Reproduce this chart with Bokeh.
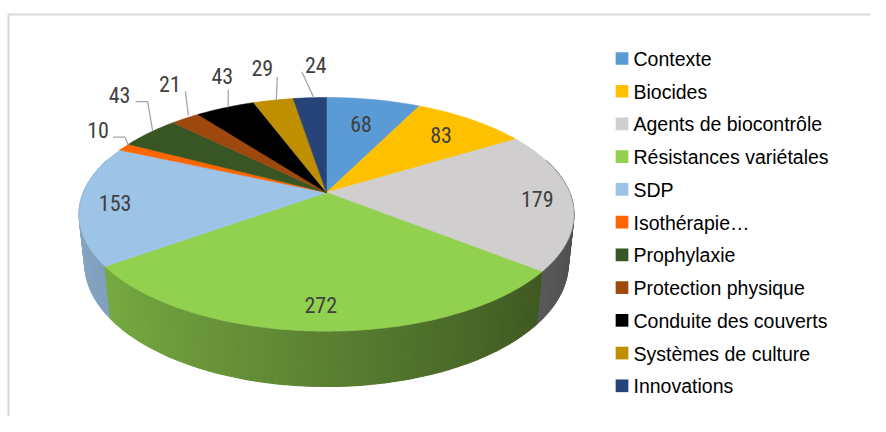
import numpy as np
from bokeh.plotting import figure
from bokeh.models import Range1d
from bokeh.core.properties import value
from bokeh.embed import file_html
from bokeh.resources import INLINE

# ---------------- data ----------------
categories = ["Contexte", "Biocides", "Agents de biocontrôle", "Résistances variétales",
              "SDP", "Isothérapie…", "Prophylaxie", "Protection physique",
              "Conduite des couverts", "Systèmes de culture", "Innovations"]
counts = [68, 83, 179, 272, 153, 10, 43, 21, 43, 29, 24]
colors = ["#5B9BD5", "#FFC000", "#D0CECE", "#92D050", "#9DC3E6", "#FF6600",
          "#375623", "#9E480E", "#000000", "#BF8F00", "#264478"]

# ---------------- layout (3D projection) ----------------
CX, CY = 327.0, 193.0
S = 0.464
C = np.sqrt(1 - S * S)
D = 4.74
F = 1152.0
H = 0.229


def proj(theta_deg, r, z):
    t = np.radians(theta_deg)
    X = r * np.sin(t)
    Y = r * np.cos(t)
    depth = D + Y * C - z * S
    v = Y * S + z * C
    return CX + F * X / depth, CY - F * v / depth


def shade(hexcol, k):
    h = hexcol.lstrip("#")
    rgb = [int(h[i:i + 2], 16) for i in (0, 2, 4)]
    rgb = [max(0, min(255, int(round(c * k)))) for c in rgb]
    return "#%02x%02x%02x" % tuple(rgb)


total = float(sum(counts))
bounds = np.concatenate([[0.0], np.cumsum(counts) / total * 360.0])
mids = (bounds[:-1] + bounds[1:]) / 2

p = figure(width=870, height=416, output_backend="svg", toolbar_location=None,
           x_range=Range1d(1, 871), y_range=Range1d(417, 1),
           min_border=0, x_axis_location=None, y_axis_location=None)
p.grid.visible = False
p.outline_line_color = None
p.background_fill_color = "white"

# chart-area frame
p.multi_line(xs=[[9, 9, 900]], ys=[[450, 15, 15]], line_color="#d9d9d9", line_width=2)

# ---------------- side walls ----------------
segs = []
for i, (a0, a1) in enumerate(zip(bounds[:-1], bounds[1:])):
    n = max(2, int(np.ceil((a1 - a0) / 1.0)))
    ts = np.linspace(a0, a1, n + 1)
    for ta, tb in zip(ts[:-1], ts[1:]):
        tm = (ta + tb) / 2
        if np.cos(np.radians(tm)) > 0.3:
            continue
        xa, ya = proj(ta, 1, 0)
        xb, yb = proj(tb, 1, 0)
        xc, yc = proj(tb, 1, -H)
        xd, yd = proj(ta, 1, -H)
        k = 0.62 - 0.24 * np.sin(np.radians(tm))
        col = shade(colors[i], k)
        segs.append((np.cos(np.radians(tm)), [xa, xb, xc, xd], [ya, yb, yc, yd], col))
segs.sort(key=lambda s: -s[0])
p.patches(xs=[s[1] for s in segs], ys=[s[2] for s in segs],
          fill_color=[s[3] for s in segs], line_color=[s[3] for s in segs], line_width=1.2)

# ---------------- top face ----------------
txs, tys = [], []
for a0, a1 in zip(bounds[:-1], bounds[1:]):
    n = max(2, int(np.ceil((a1 - a0) / 1.0)))
    ts = np.linspace(a0, a1, n + 1)
    px, py = proj(ts, 1, 0)
    txs.append([CX] + list(px))
    tys.append([CY] + list(py))
p.patches(xs=txs, ys=tys, fill_color=colors, line_color=colors, line_width=0.6)

# ---------------- data labels ----------------
inside_r = {0: 0.70, 1: 0.77, 2: 0.86, 3: 0.84, 4: 0.86}
# outside: label offset from rim anchor, leader offsets from rim anchor
outside = {
    5: ((-26, -17), [(4, -2), (1, -10), (-11, -10)]),
    6: ((-30, -38), [(3, -2), (-2, -31), (-14, -31)]),
    7: ((-15.5, -34.5), [(3, -3), (0, -27)]),
    8: ((-3, -32), [(3, -1), (3, -18)]),
    9: ((-11, -32), [(3, 0), (4, -23)]),
    10: ((6, -32.5), [(4, 0), (-8, -26)]),
}
lx, ly, lt = [], [], []
lead_x, lead_y = [], []
for i, m in enumerate(mids):
    if i in inside_r:
        x, y = proj(m, inside_r[i], 0)
    else:
        ax, ay = proj(m, 1, 0)
        (dx, dy), pts = outside[i]
        x, y = ax + dx, ay + dy
        lead_x.append([ax + q[0] for q in pts])
        lead_y.append([ay + q[1] for q in pts])
    lx.append(x)
    ly.append(y)
    lt.append(str(counts[i]))

p.multi_line(xs=lead_x, ys=lead_y, line_color="#a6a6a6", line_width=1.3)
p.text(x=lx, y=ly, text=lt,
       text_font=value("Roboto Condensed, DejaVu Sans Condensed, Liberation Sans"),
       text_font_size="22px", text_color="#404040",
       text_align="center", text_baseline="middle")

# ---------------- legend ----------------
rows = np.arange(len(categories))
leg_y = 59 + rows * 32.73
p.rect(x=[622.5] * len(categories), y=leg_y, width=12.7, height=12.7,
       fill_color=colors, line_color=None)
p.text(x=[634] * len(categories), y=leg_y + 0.5, text=categories,
       text_font=value("Liberation Sans"), text_font_size="19.5px",
       text_color="#000000", text_align="left", text_baseline="middle")

open("out.html", "w").write(file_html(p, INLINE))
